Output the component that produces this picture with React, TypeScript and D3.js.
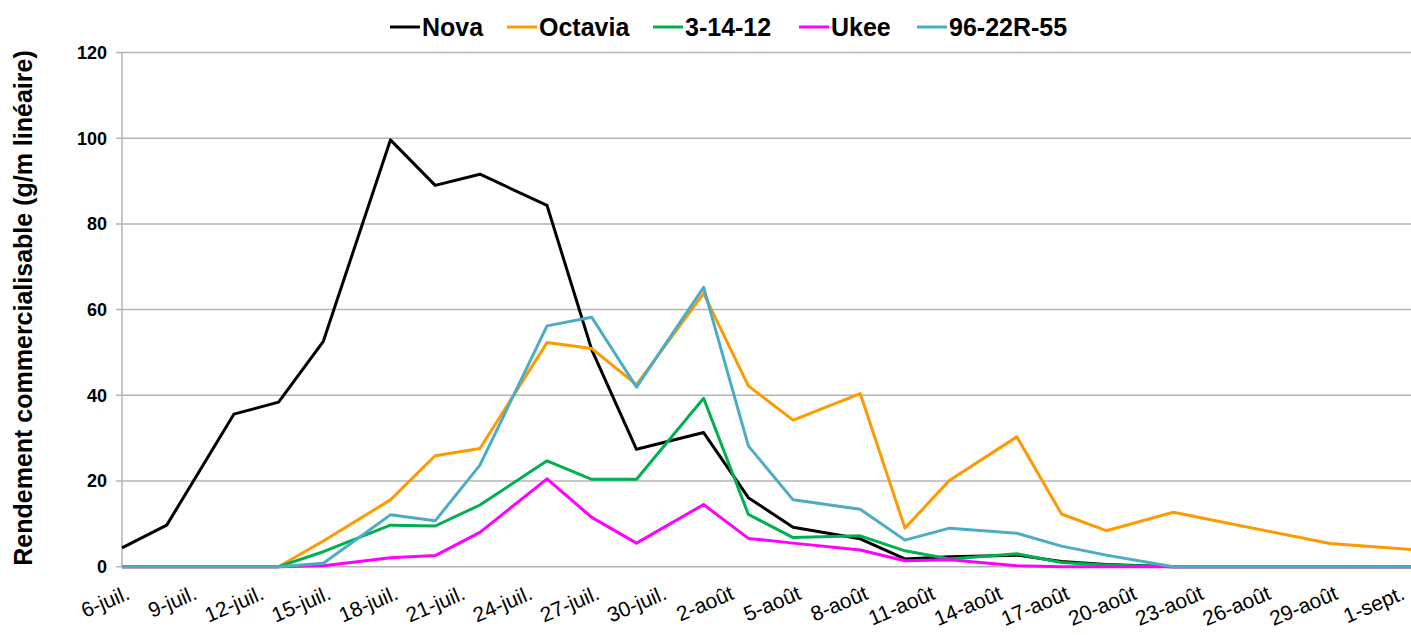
import React, { useEffect, useRef } from 'react';
import * as d3 from 'd3';

const dates = [
    '2015-07-06', '2015-07-08', '2015-07-11', '2015-07-13', '2015-07-15', '2015-07-18',
    '2015-07-20', '2015-07-22', '2015-07-25', '2015-07-27', '2015-07-29', '2015-08-01',
    '2015-08-03', '2015-08-05', '2015-08-08', '2015-08-10', '2015-08-12', '2015-08-15',
    '2015-08-17', '2015-08-19', '2015-08-22', '2015-08-29', '2015-09-02'
];

const nova = [4.4, 9.7, 35.6, 38.4, 52.6, 99.6, 89.0, 91.6, 84.3, 50.6, 27.4, 31.3, 16.1, 9.2, 6.5, 1.8, 2.3, 2.7, 1.2, 0.5, 0, 0, 0];
const octavia = [0, 0, 0, 0, 6.0, 15.6, 25.9, 27.6, 52.3, 50.9, 42.5, 63.8, 42.2, 34.2, 40.4, 9.0, 20.2, 30.3, 12.3, 8.4, 12.7, 5.4, 3.9];
const s31412 = [0, 0, 0, 0, 3.5, 9.7, 9.5, 14.4, 24.7, 20.4, 20.4, 39.3, 12.2, 6.8, 7.2, 3.7, 1.8, 3.0, 1.0, 0.4, 0, 0, 0];
const ukee = [0, 0, 0, 0, 0.2, 2.1, 2.6, 8.0, 20.5, 11.5, 5.5, 14.5, 6.6, 5.5, 3.9, 1.4, 1.6, 0.2, 0, 0, 0, 0, 0];
const s9622 = [0, 0, 0, 0, 0.8, 12.1, 10.7, 23.7, 56.2, 58.2, 41.9, 65.2, 28.2, 15.6, 13.4, 6.2, 9.0, 7.8, 4.8, 2.7, 0, 0, 0];

const seriesNames = ['Nova', 'Octavia', '3-14-12', 'Ukee', '96-22R-55'];
const seriesColors = ['#000000', '#FF9900', '#00B050', '#FF00FF', '#4BACC6'];

const xTickLabels = [
    '6-juil.', '9-juil.', '12-juil.', '15-juil.', '18-juil.', '21-juil.', '24-juil.',
    '27-juil.', '30-juil.', '2-août', '5-août', '8-août', '11-août', '14-août',
    '17-août', '20-août', '23-août', '26-août', '29-août', '1-sept.'
];
const yTicks = [0, 20, 40, 60, 80, 100, 120];

export default function App() {
    const ref = useRef<SVGSVGElement>(null);

    useEffect(() => {
        const width = 1411;
        const height = 635;
        const left = 122;
        const top = 52.5;
        const bottom = 566.7;
        const dayW = 22.37;

        const svg = d3.select(ref.current);
        svg.selectAll('*').remove();

        const parse = d3.utcParse('%Y-%m-%d');
        const start = parse('2015-07-06') as Date;
        const end = parse('2015-09-02') as Date;

        const x = d3.scaleUtc()
            .domain([start, end])
            .range([left, left + 58 * dayW]);
        const y = d3.scaleLinear()
            .domain([0, 120])
            .range([bottom, top]);

        const font = "'Liberation Sans', Arial, sans-serif";

        // gridlines + y ticks
        svg.append('g').selectAll('line.grid').data(yTicks).enter()
            .append('line')
            .attr('x1', left - 6)
            .attr('x2', x(end))
            .attr('y1', d => y(d))
            .attr('y2', d => y(d))
            .attr('stroke', '#b4b4b4')
            .attr('stroke-width', 1.5);

        svg.append('line')
            .attr('x1', left).attr('x2', left)
            .attr('y1', y(120)).attr('y2', y(0))
            .attr('stroke', '#b4b4b4')
            .attr('stroke-width', 1.5);

        svg.append('g').selectAll('text').data(yTicks).enter()
            .append('text')
            .attr('x', left - 15)
            .attr('y', d => y(d))
            .attr('dy', '0.36em')
            .attr('text-anchor', 'end')
            .attr('font-family', font)
            .attr('font-weight', 'bold')
            .attr('font-size', 18)
            .text(d => d);

        // x labels every 3 days
        svg.append('g').selectAll('text').data(xTickLabels).enter()
            .append('text')
            .attr('transform', (d, i) => {
                const tx = x(d3.utcDay.offset(start, 3 * i));
                return 'translate(' + (tx + 3) + ',' + 584 + ') rotate(-23)';
            })
            .attr('dy', '0.75em')
            .attr('text-anchor', 'end')
            .attr('font-family', font)
            .attr('font-size', 21)
            .text(d => d);

        // y title
        svg.append('text')
            .attr('transform', 'translate(' + 32 + ',' + 308 + ') rotate(-90)')
            .attr('text-anchor', 'middle')
            .attr('font-family', font)
            .attr('font-weight', 'bold')
            .attr('font-size', 25)
            .text('Rendement commercialisable (g/m linéaire)');

        // lines
        const all = [nova, octavia, s31412, ukee, s9622];
        const line = d3.line<number>()
            .x((d, i) => x(parse(dates[i]) as Date))
            .y(d => y(d));

        svg.append('g').selectAll('path').data(all).enter()
            .append('path')
            .attr('d', d => line(d))
            .attr('fill', 'none')
            .attr('stroke', (d, i) => seriesColors[i])
            .attr('stroke-width', 3)
            .attr('stroke-linejoin', 'round');

        // legend
        const legendX = [390, 507, 653, 799, 917];
        const lg = svg.append('g').selectAll('g').data(seriesNames).enter()
            .append('g')
            .attr('transform', (d, i) => 'translate(' + legendX[i] + ',27)');
        lg.append('line')
            .attr('x1', 0).attr('x2', 30)
            .attr('stroke', (d, i) => seriesColors[i])
            .attr('stroke-width', 3);
        lg.append('text')
            .attr('x', 32)
            .attr('dy', '0.36em')
            .attr('font-family', font)
            .attr('font-weight', 'bold')
            .attr('font-size', 25)
            .text(d => d);

        svg.attr('width', width).attr('height', height);
    }, []);

    return (
        <svg ref={ref} width={1411} height={635}
            style={{ position: 'absolute', left: 0, top: 0, background: '#fff' }} />
    );
}
